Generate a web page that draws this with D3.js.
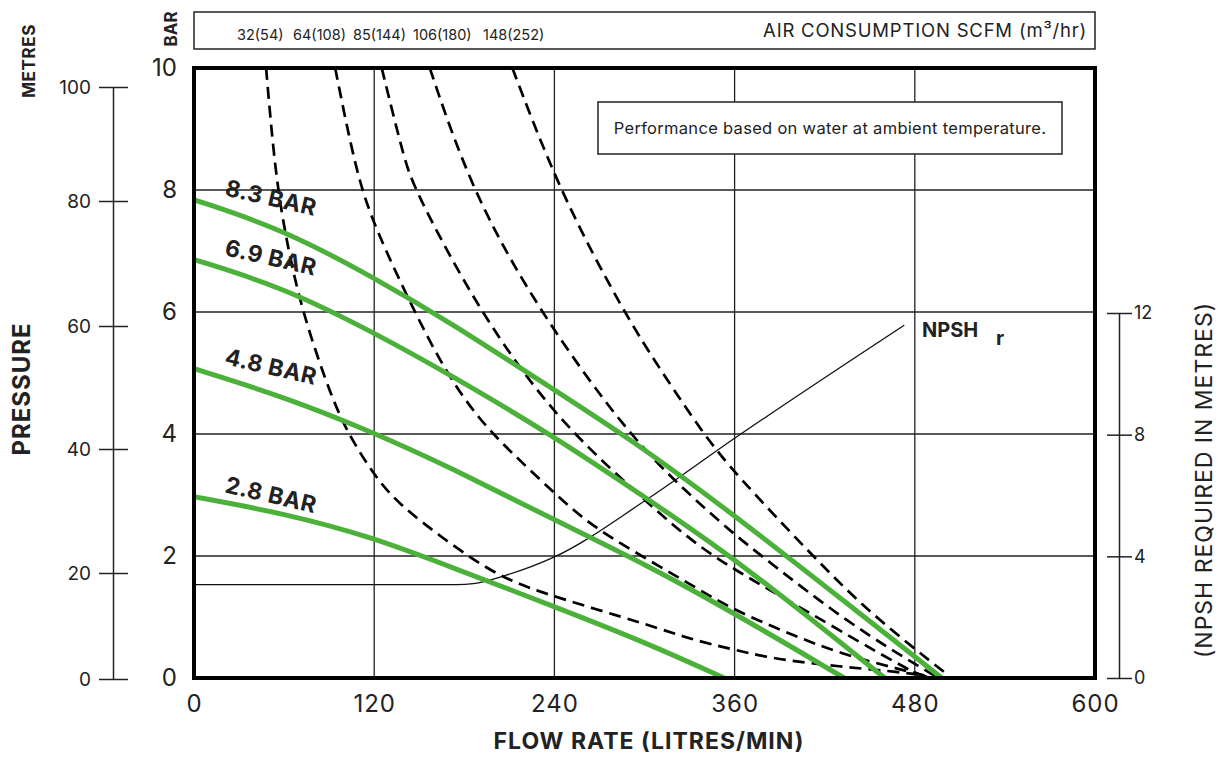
<!DOCTYPE html>
<html>
<head>
<meta charset="utf-8">
<script src="https://cdn.jsdelivr.net/npm/d3@7"></script>
<style>
	body { margin: 0; background: #fff; }
	svg text { font-family: Inter, "Open Sans", sans-serif; fill: #222; }
</style>
</head>
<body>
<svg id="chart" width="1222" height="757"></svg>
<script>
// axis ticks
var flowTicks = [0, 120, 240, 360, 480, 600];
var barTicks = [0, 2, 4, 6, 8, 10];
var metreTicks = [0, 20, 40, 60, 80, 100];
var npshTicks = [0, 4, 8, 12];

// pressure curves: [flow l/min, head bar]
var pressureNames = ["8.3 BAR", "6.9 BAR", "4.8 BAR", "2.8 BAR"];
var bar83 = [[0, 7.84], [60, 7.35], [120, 6.56], [170, 5.84], [240, 4.72], [290, 3.93], [360, 2.67], [436, 1.2], [498, 0]];
var bar69 = [[0, 6.86], [60, 6.4], [120, 5.66], [170, 4.98], [240, 3.96], [301, 2.95], [360, 1.97], [460, 0]];
var bar48 = [[0, 5.07], [60, 4.61], [120, 4.02], [170, 3.46], [240, 2.59], [301, 1.86], [360, 1.06], [433, 0]];
var bar28 = [[0, 2.97], [60, 2.7], [120, 2.3], [170, 1.83], [240, 1.17], [303, 0.56], [353, 0]];

// air consumption curves: scfm(m3/hr)
var airNames = ["32(54)", "64(108)", "85(144)", "106(180)", "148(252)"];
var air32 = [[48, 10], [54, 8.29], [61.5, 7.16], [72, 6.0], [92, 4.56], [104, 3.95], [119, 3.36], [135, 2.87], [170, 2.21], [204, 1.64], [240, 1.33], [303, 0.87], [330, 0.64], [360, 0.46], [396, 0.26], [480, 0.08], [488, 0.02]];
var air64 = [[94, 10], [108, 8.28], [120, 7.41], [146, 6.04], [168, 5.0], [190, 4.23], [212, 3.68], [240, 3.03], [265, 2.48], [303, 1.93], [337, 1.44], [360, 1.11], [396, 0.73], [430, 0.4], [472, 0.13], [488, 0.03]];
var air85 = [[125, 10], [140, 8.5], [147, 8], [190, 6], [240, 4.29], [290, 3.14], [330, 2.26], [360, 1.77], [407, 1.11], [476, 0.12], [487, 0.02]];
var air106 = [[157, 10], [184.5, 8], [230, 6], [290, 3.96], [330, 3.0], [360, 2.35], [378, 2.0], [436, 0.89], [490, 0.08], [496, 0]];
var air148 = [[212, 10], [243, 8], [286, 6], [312, 5.0], [339, 4.01], [360, 3.36], [412, 2], [450, 1.06], [503, 0.03]];

// NPSH required: [flow l/min, metres]
var npshCurve = [[0, 3.07], [175, 3.07], [186, 3.1], [208, 3.38], [240, 3.98], [301, 5.85], [360, 7.88], [473, 11.6]];

var svg = d3.select("#chart");

var x = d3.scaleLinear().domain([0, 600]).range([194, 1095]);
var y = d3.scaleLinear().domain([0, 10]).range([678, 68]);
var yN = d3.scaleLinear().domain([0, 12]).range([678, 313]);
// the metres scale on the original sheet is not quite linear
var yM = d3.scaleLinear().domain(metreTicks).range([679, 573, 449, 326, 201, 87]);

var green = "#4cb13a";

// grid
var grid = svg.append("g").style("stroke", "#222").style("stroke-width", "1.3px");
grid.selectAll(".vg").data(flowTicks.slice(1, -1)).enter().append("line")
	.attr("x1", d => x(d)).attr("x2", d => x(d)).attr("y1", y(10)).attr("y2", y(0));
grid.selectAll(".hg").data(barTicks.slice(1, -1)).enter().append("line")
	.attr("x1", x(0)).attr("x2", x(600)).attr("y1", d => y(d)).attr("y2", d => y(d));

svg.append("defs").append("clipPath").attr("id", "plotClip")
	.append("rect").attr("x", x(0)).attr("y", y(10)).attr("width", x(600) - x(0)).attr("height", y(0) - y(10));

var plot = svg.append("g").attr("clip-path", "url(#plotClip)");

// readings off the sheet are a bit noisy, a b-spline keeps the curves smooth
var lineBar = d3.line().x(d => x(d[0])).y(d => y(d[1])).curve(d3.curveBasis);
var lineNpsh = d3.line().x(d => x(d[0])).y(d => yN(d[1])).curve(d3.curveMonotoneX);

plot.append("path").datum(npshCurve).attr("d", lineNpsh)
	.style("fill", "none").style("stroke", "#111").style("stroke-width", "1.3px");

plot.selectAll(".air").data([air32, air64, air85, air106, air148]).enter().append("path")
	.attr("d", lineBar)
	.style("fill", "none").style("stroke", "#000").style("stroke-width", "2.7px")
	.style("stroke-dasharray", "12,7");

var pressureData = [bar83, bar69, bar48, bar28];
plot.selectAll(".pressure").data(pressureData).enter().append("path")
	.attr("d", lineBar)
	.style("fill", "none").style("stroke", green).style("stroke-width", "5px");

// frame
svg.append("rect").attr("x", x(0)).attr("y", y(10)).attr("width", x(600) - x(0)).attr("height", y(0) - y(10))
	.style("fill", "none").style("stroke", "#000").style("stroke-width", "4px");

// curve labels
svg.selectAll(".plabel").data(pressureData).enter().append("text")
	.text((d, i) => pressureNames[i])
	.attr("transform", d => `translate(${ x(0) + 77 },${ y(d[0][1]) - 2 }) rotate(13)`)
	.attr("dy", "0.35em")
	.style("text-anchor", "middle").style("font-size", "23px").style("font-weight", 700)
	.style("letter-spacing", "0.5px");

var npshLabel = svg.append("text").attr("x", 922).attr("y", 337)
	.style("font-size", "20px").style("font-weight", 700).text("NPSH");
npshLabel.append("tspan").attr("x", 996).attr("dy", 8).text("r");

// bar axis
var barAxis = svg.append("g").attr("transform", `translate(${ x(0) },0)`)
	.call(d3.axisLeft(y).tickValues(barTicks).tickSize(0).tickPadding(17));
barAxis.select(".domain").remove();
barAxis.selectAll("text").style("font-size", "24px").style("font-family", "Inter, sans-serif").attr("fill", "#222");

// flow axis
var flowAxis = svg.append("g").attr("transform", `translate(0,${ y(0) })`)
	.call(d3.axisBottom(x).tickValues(flowTicks).tickSize(0).tickPadding(17));
flowAxis.select(".domain").remove();
flowAxis.selectAll("text").style("font-size", "24px").style("font-family", "Inter, sans-serif")
	.style("letter-spacing", "1px").attr("fill", "#222");

// metres axis
var metreAxis = svg.append("g").attr("transform", "translate(113,0)")
	.call(d3.axisLeft(yM).tickValues(metreTicks).tickSize(0).tickSizeOuter(0).tickPadding(22));
metreAxis.select(".domain").style("stroke", "#222").style("stroke-width", "1.5px");
metreAxis.selectAll(".tick").append("line").attr("x1", -14).attr("x2", 15)
	.style("stroke", "#222").style("stroke-width", "1.5px");
metreAxis.selectAll("text").style("font-size", "19px").style("font-family", "Inter, sans-serif").attr("fill", "#222");

// NPSH axis
var npshAxis = svg.append("g").attr("transform", "translate(1119,0)")
	.call(d3.axisRight(yN).tickValues(npshTicks).tickSize(0).tickSizeOuter(0).tickPadding(15));
npshAxis.select(".domain").style("stroke", "#222").style("stroke-width", "1.5px");
npshAxis.selectAll(".tick").append("line").attr("x1", -12).attr("x2", 13)
	.style("stroke", "#222").style("stroke-width", "1.5px");
npshAxis.selectAll("text").style("font-size", "18px").style("font-family", "Inter, sans-serif").attr("fill", "#222");

// axis titles
svg.append("text").text("FLOW RATE (LITRES/MIN)")
	.attr("x", 649).attr("y", 749)
	.style("text-anchor", "middle").style("font-size", "23px").style("font-weight", 700)
	.style("letter-spacing", "1px");
svg.append("text").text("PRESSURE")
	.attr("transform", "translate(30,389) rotate(-90)")
	.style("text-anchor", "middle").style("font-size", "24px").style("font-weight", 700)
	.style("letter-spacing", "1px");
svg.append("text").text("METRES")
	.attr("transform", "translate(35,61) rotate(-90)")
	.style("text-anchor", "middle").style("font-size", "17px").style("font-weight", 700)
	.style("letter-spacing", "0.6px");
svg.append("text").text("BAR")
	.attr("transform", "translate(177,29) rotate(-90)")
	.style("text-anchor", "middle").style("font-size", "17px").style("font-weight", 700);
svg.append("text").text("(NPSH REQUIRED IN METRES)")
	.attr("transform", "translate(1212,480) rotate(-90)")
	.style("text-anchor", "middle").style("font-size", "23px").style("letter-spacing", "1px");

// air consumption header
svg.append("rect").attr("x", x(0)).attr("y", 12).attr("width", x(600) - x(0)).attr("height", 37)
	.style("fill", "#fff").style("stroke", "#222").style("stroke-width", "1.5px");
var airLabelX = [237, 293, 353, 413, 483];
svg.selectAll(".alabel").data(airNames).enter().append("text")
	.text(d => d)
	.attr("x", (d, i) => airLabelX[i]).attr("y", 40)
	.style("font-size", "14.5px");
svg.append("text").attr("x", 1087).attr("y", 37)
	.style("text-anchor", "end").style("font-size", "18.5px").style("letter-spacing", "0.8px")
	.text("AIR CONSUMPTION SCFM (m³/hr)");

// note box
svg.append("rect").attr("x", 598).attr("y", 102).attr("width", 464).attr("height", 52)
	.style("fill", "#fff").style("stroke", "#222").style("stroke-width", "1.5px");
svg.append("text").attr("x", 830).attr("y", 134)
	.style("text-anchor", "middle").style("font-size", "16.5px").style("letter-spacing", "0.3px")
	.text("Performance based on water at ambient temperature.");
</script>
</body>
</html>
